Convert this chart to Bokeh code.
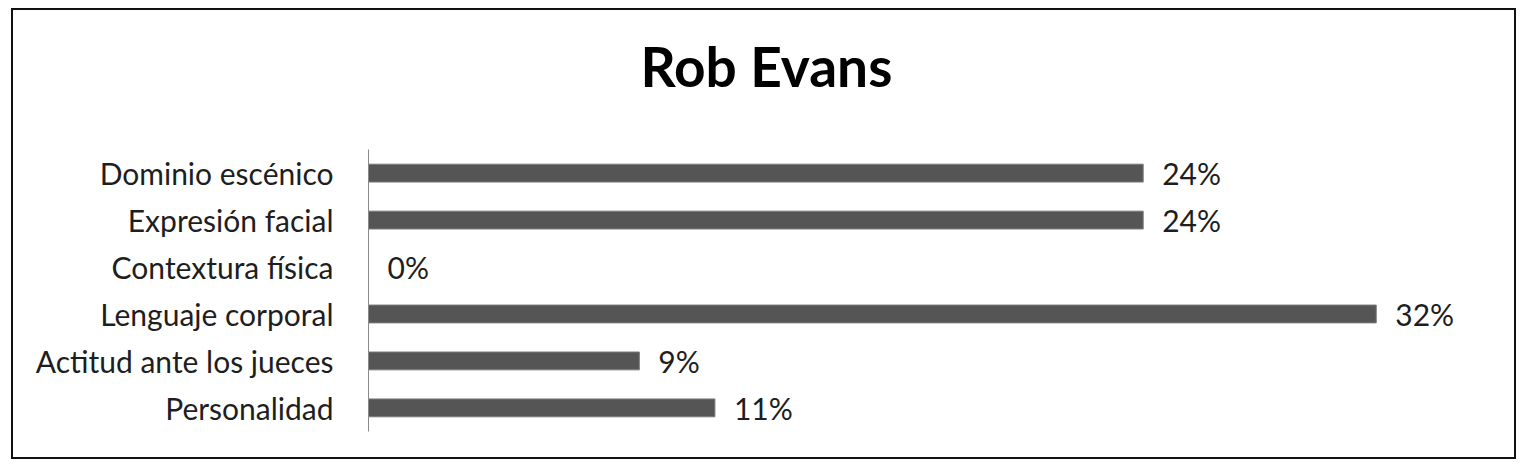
from bokeh.plotting import figure
from bokeh.models import ColumnDataSource, Range1d, FactorRange
from bokeh.core.properties import value
from bokeh.embed import file_html
from bokeh.resources import INLINE

title_text = "Rob Evans"
categories = ["Dominio escénico", "Expresión facial", "Contextura física",
              "Lenguaje corporal", "Actitud ante los jueces", "Personalidad"]
values = [24.6, 24.6, 0.0, 32.0, 8.6, 11.0]
value_labels = ["24%", "24%", "0%", "32%", "9%", "11%"]

FONT = "Lato"

src = ColumnDataSource(dict(cat=categories, val=values, lab=value_labels))

p = figure(width=1505, height=451, output_backend="svg", toolbar_location=None,
           y_range=FactorRange(*categories[::-1], range_padding=0.214),
           x_range=Range1d(0, 36.2),
           min_border_left=355, min_border_top=100, min_border_bottom=0,
           min_border_right=10)
p.styles = {"border": "2px solid #111", "margin-left": "11px", "margin-top": "8px"}

p.hbar(y="cat", right="val", height=0.38, source=src,
       fill_color="#555555", line_color="#7a7a7a", line_width=1)
p.text(x="val", y="cat", text="lab", source=src, x_offset=19,
       text_baseline="middle", text_align="left",
       text_font=value(FONT), text_font_size="30px", text_color="#1e1e1e")

p.title.text = title_text
p.title.align = "left"
p.title.offset = 272
p.title.text_font = FONT
p.title.text_font_style = "bold"
p.title.text_font_size = "55px"
p.title.text_color = "#000000"
p.title.standoff = 41

p.xaxis.visible = False

# axis line only over the category band (synthetic coordinates 0..n)
p.yaxis.bounds = (0, len(categories))
p.yaxis.axis_line_color = "#8a8a8a"
p.yaxis.axis_line_width = 1
p.yaxis.major_tick_line_color = None
p.yaxis.minor_tick_line_color = None
p.yaxis.major_tick_out = 0
p.yaxis.major_tick_in = 0
p.yaxis.minor_tick_out = 0
p.yaxis.major_label_standoff = 35
p.yaxis.major_label_text_font = FONT
p.yaxis.major_label_text_font_size = "30px"
p.yaxis.major_label_text_color = "#1e1e1e"

p.xgrid.visible = False
p.ygrid.visible = False
p.outline_line_color = None
p.background_fill_color = "white"
p.border_fill_color = "white"

open("out.html", "w").write(file_html(p, INLINE))
